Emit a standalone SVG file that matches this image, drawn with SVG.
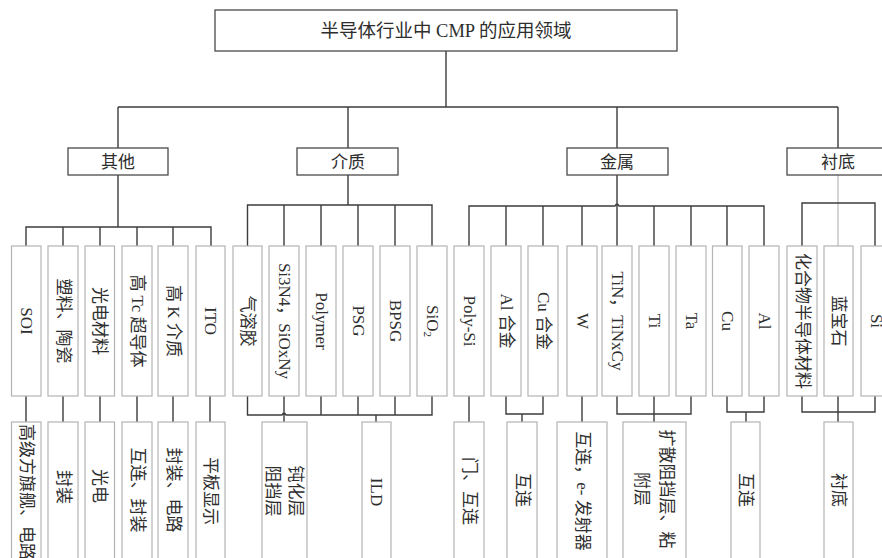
<svg xmlns="http://www.w3.org/2000/svg" width="882" height="558" viewBox="0 0 882 558">
<style>
text{font-family:"Liberation Serif","Noto Sans CJK SC",serif;font-size:17px;fill:#2e2e2e;dominant-baseline:central;text-anchor:middle}
.t{font-size:18.5px}
.hb{fill:#fff;stroke:#4a4a4a;stroke-width:1.3}
.lb{fill:#fff;stroke:#b4b4b4;stroke-width:1.2}
.c{fill:none;stroke:#3c3c3c;stroke-width:1.4}
.g{fill:none;stroke:#c4c4c4;stroke-width:1.4}
</style>
<rect width="882" height="558" fill="#fff"/>
<g id="connectors">
<path class="c" d="M446 51V107M118 107H838M118 107V148M348 107V148M617 107V148M838 107V148"/>
<path class="c" d="M118 175V227M26 246V227H211V246M63 227V246M100 227V246M137 227V246M173 227V246"/>
<path class="c" d="M348 175V205M247.5 246V205H432V246M284 205V246M321 205V246M358 205V246M395 205V246"/>
<path class="c" d="M617 175V246M469 246V206H615Q617 202 619 206H764V246M506 206V246M543 206V246M582 206V246M654 206V246M691 206V246M727 206V246"/>
<path class="g" d="M838 175V246"/>
<path class="c" d="M802 246V203H875V246"/>
<path class="c" d="M26 396V422M63 396V422M100 396V422M137 396V422M173 396V422M210 396V422"/>
<path class="c" d="M247.5 396V415H282Q284 411 286 415H432V396M284 396V422M321 396V415M358 396V415M395 396V415M376 415V422"/>
<path class="c" d="M469 396V422M506 396V414H543V396M522 414V422M582 396V422M617 396V414H691V396M654 396V422M727 396V412H764V396M746 412V422"/>
<path class="c" d="M802 396V412H875V396M838 396V422"/>
</g>
<g id="root"><rect class="hb" x="215" y="10" width="462" height="41"/><text class="t" x="446" y="31">半导体行业中 CMP 的应用领域</text></g>
<g id="cat-other"><rect class="hb" x="68" y="148" width="100" height="27"/><text x="118" y="162">其他</text></g>
<g id="cat-dielectric"><rect class="hb" x="297" y="148" width="101" height="27"/><text x="348" y="162">介质</text></g>
<g id="cat-metal"><rect class="hb" x="567" y="148" width="101" height="27"/><text x="617" y="162">金属</text></g>
<g id="cat-substrate"><rect class="hb" x="787" y="148" width="101" height="27"/><text x="838" y="162">衬底</text></g>

<g id="l-soi"><rect class="lb" x="11.5" y="246" width="29.5" height="150"/><text transform="translate(26.3 321) rotate(90)">SOI</text></g>
<g id="l-plastic"><rect class="lb" x="48" y="246" width="30" height="150"/><text transform="translate(63 321) rotate(90)">塑料、陶瓷</text></g>
<g id="l-opto"><rect class="lb" x="85" y="246" width="29.5" height="150"/><text transform="translate(99.8 321) rotate(90)">光电材料</text></g>
<g id="l-hightc"><rect class="lb" x="122" y="246" width="30" height="150"/><text transform="translate(137 321) rotate(90)">高 Tc 超导体</text></g>
<g id="l-highk"><rect class="lb" x="158" y="246" width="30" height="150"/><text transform="translate(173 321) rotate(90)">高 K 介质</text></g>
<g id="l-ito"><rect class="lb" x="196" y="246" width="29" height="150"/><text transform="translate(210.5 321) rotate(90)">ITO</text></g>

<g id="l-aerogel"><rect class="lb" x="233" y="246" width="29" height="150"/><text transform="translate(247.5 321) rotate(90)">气溶胶</text></g>
<g id="l-si3n4"><rect class="lb" x="269" y="246" width="30" height="150"/><text transform="translate(284 321) rotate(90)">Si3N4，SiOxNy</text></g>
<g id="l-polymer"><rect class="lb" x="306" y="246" width="30" height="150"/><text transform="translate(321 321) rotate(90)">Polymer</text></g>
<g id="l-psg"><rect class="lb" x="343" y="246" width="30" height="150"/><text transform="translate(358 321) rotate(90)">PSG</text></g>
<g id="l-bpsg"><rect class="lb" x="380" y="246" width="30" height="150"/><text transform="translate(395 321) rotate(90)">BPSG</text></g>
<g id="l-sio2"><rect class="lb" x="417" y="246" width="30" height="150"/><text transform="translate(432 321) rotate(90)">SiO<tspan font-size="11" dy="4">2</tspan></text></g>

<g id="l-polysi"><rect class="lb" x="454" y="246" width="30" height="150"/><text transform="translate(469 321) rotate(90)">Poly-Si</text></g>
<g id="l-alalloy"><rect class="lb" x="491" y="246" width="30" height="150"/><text transform="translate(506 321) rotate(90)">Al 合金</text></g>
<g id="l-cualloy"><rect class="lb" x="528" y="246" width="30" height="150"/><text transform="translate(543 321) rotate(90)">Cu 合金</text></g>
<g id="l-w"><rect class="lb" x="567" y="246" width="30" height="150"/><text transform="translate(582 321) rotate(90)">W</text></g>
<g id="l-tin"><rect class="lb" x="602" y="246" width="30" height="150"/><text transform="translate(617 321) rotate(90)">TiN，TiNxCy</text></g>
<g id="l-ti"><rect class="lb" x="639" y="246" width="30" height="150"/><text transform="translate(654 321) rotate(90)">Ti</text></g>
<g id="l-ta"><rect class="lb" x="676" y="246" width="30" height="150"/><text transform="translate(691 321) rotate(90)">Ta</text></g>
<g id="l-cu"><rect class="lb" x="712.5" y="246" width="29.5" height="150"/><text transform="translate(727 321) rotate(90)">Cu</text></g>
<g id="l-al"><rect class="lb" x="749" y="246" width="30" height="150"/><text transform="translate(764 321) rotate(90)">Al</text></g>

<g id="l-compound"><rect class="lb" x="787" y="246" width="30" height="150"/><text transform="translate(802 321) rotate(90)">化合物半导体材料</text></g>
<g id="l-sapphire"><rect class="lb" x="824" y="246" width="29" height="150"/><text transform="translate(838.5 321) rotate(90)">蓝宝石</text></g>
<g id="l-si"><rect class="lb" x="861" y="246" width="30" height="150"/><text transform="translate(876 321) rotate(90)">Si</text></g>

<g id="b-chip"><rect class="lb" x="11.5" y="422" width="29.5" height="150"/><text transform="translate(26.3 424) rotate(90)" style="text-anchor:start">高级方旗舰、电路</text></g>
<g id="b-pack1"><rect class="lb" x="48" y="422" width="30" height="150"/><text transform="translate(63 487) rotate(90)">封装</text></g>
<g id="b-opto"><rect class="lb" x="85" y="422" width="29.5" height="150"/><text transform="translate(99.8 486) rotate(90)">光电</text></g>
<g id="b-interpack"><rect class="lb" x="122" y="422" width="30" height="150"/><text transform="translate(137 490) rotate(90)">互连、封装</text></g>
<g id="b-packcirc"><rect class="lb" x="158" y="422" width="30" height="150"/><text transform="translate(173 490) rotate(90)">封装、电路</text></g>
<g id="b-flat"><rect class="lb" x="196" y="422" width="29" height="150"/><text transform="translate(210.5 491) rotate(90)">平板显示</text></g>

<g id="b-passiv"><rect class="lb" x="262" y="422" width="45" height="150"/><text transform="translate(284.5 491) rotate(90)"><tspan x="0" y="-11.5">钝化层</tspan><tspan x="0" y="11.5">阻挡层</tspan></text></g>
<g id="b-ild"><rect class="lb" x="362" y="422" width="29" height="150"/><text transform="translate(376.5 492) rotate(90)">ILD</text></g>

<g id="b-gate"><rect class="lb" x="454" y="422" width="30" height="150"/><text transform="translate(469 491) rotate(90)">门、互连</text></g>
<g id="b-inter1"><rect class="lb" x="507" y="422" width="30" height="150"/><text transform="translate(522 490) rotate(90)">互连</text></g>
<g id="b-emitter"><rect class="lb" x="557" y="422" width="50" height="150"/><text transform="translate(582 491) rotate(90)">互连，e- 发射器</text></g>
<g id="b-barrier"><rect class="lb" x="623" y="422" width="63" height="150"/><text transform="translate(654.5 489) rotate(90)"><tspan x="0" y="-12.5">扩散阻挡层、粘</tspan><tspan x="0" y="12.5">附层</tspan></text></g>
<g id="b-inter2"><rect class="lb" x="731" y="422" width="29" height="150"/><text transform="translate(745.5 490) rotate(90)">互连</text></g>
<g id="b-substrate"><rect class="lb" x="824" y="422" width="29" height="150"/><text transform="translate(838.5 490) rotate(90)">衬底</text></g>
</svg>
